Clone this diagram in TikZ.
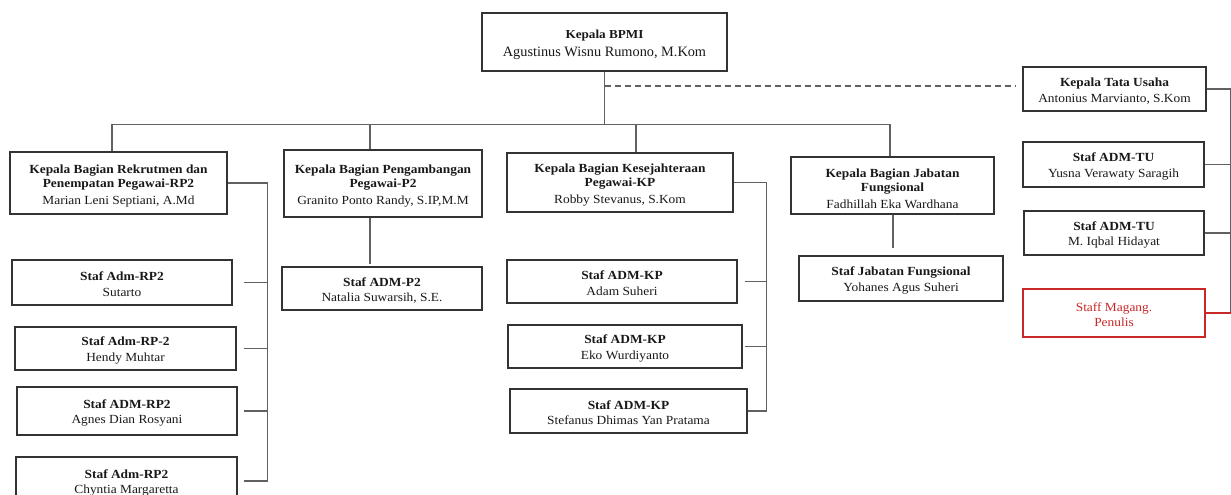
\documentclass[tikz,border=0pt]{standalone}
\usepackage{fontspec}
\setmainfont{Liberation Serif}[FakeStretch=1.08]
\newfontfamily\plainserif{Liberation Serif}
\definecolor{magred}{RGB}{200,40,40}
\definecolor{txt}{RGB}{25,25,25}
\newcommand\dn[1]{\rule{0pt}{#1}}
\begin{document}
\begin{tikzpicture}[x=1pt,y=-1pt,
  bx/.style={draw=black!80, line width=1.2pt, fill=white, align=center, inner sep=0pt,
    text=txt, font=\fontsize{12.4}{14}\selectfont},
  ln/.style={draw=black!62, line width=1.5pt},
]
\useasboundingbox (0,0) rectangle (1231,495);
\fill[white] (0,0) rectangle (1231,495);

% top
\node[bx, minimum width=245pt, minimum height=58pt] (top) at (604.5,42)
  {\fontsize{12.2}{13}\selectfont\dn{14.5pt}\textbf{Kepala BPMI}\\[4pt]\plainserif\fontsize{14.3}{15}\selectfont Agustinus Wisnu Rumono, M.Kom};

% heads
\node[bx, minimum width=217pt, minimum height=62pt] (rp2h) at (118.5,183)
  {\dn{14.5pt}\textbf{Kepala Bagian Rekrutmen dan}\\\textbf{Penempatan Pegawai-RP2}\\[3pt]Marian Leni Septiani, A.Md};
\node[bx, minimum width=198pt, minimum height=67pt] (p2h) at (383,183.5)
  {\dn{14.5pt}\textbf{Kepala Bagian Pengambangan}\\\textbf{Pegawai-P2}\\[3pt]Granito Ponto Randy, S.IP,M.M};
\node[bx, minimum width=226pt, minimum height=59pt] (kph) at (620,182.5)
  {\dn{14.5pt}\textbf{Kepala Bagian Kesejahteraan}\\\textbf{Pegawai-KP}\\[3pt]Robby Stevanus, S.Kom};
\node[bx, minimum width=203pt, minimum height=57pt] (jfh) at (892.5,185.5)
  {\dn{14.5pt}\textbf{Kepala Bagian Jabatan}\\\textbf{Fungsional}\\[3pt]Fadhillah Eka Wardhana};

% staff
\node[bx, minimum width=200pt, minimum height=43pt] (p2s) at (382,288.5)
  {\dn{12.5pt}\textbf{Staf ADM-P2}\\[1.5pt]Natalia Suwarsih, S.E.};
\node[bx, minimum width=204pt, minimum height=45pt] (jfs) at (901,278.5)
  {\dn{12.5pt}\textbf{Staf Jabatan Fungsional}\\[1.5pt]Yohanes Agus Suheri};

\node[bx, minimum width=220pt, minimum height=45pt] (s1) at (122,282.5)
  {\dn{12.5pt}\textbf{Staf Adm-RP2}\\[1.5pt]Sutarto};
\node[bx, minimum width=221pt, minimum height=43pt] (s2) at (125.5,348.5)
  {\dn{12.5pt}\textbf{Staf Adm-RP-2}\\[1.5pt]Hendy Muhtar};
\node[bx, minimum width=220pt, minimum height=48pt] (s3) at (127,411)
  {\dn{12.5pt}\textbf{Staf ADM-RP2}\\[1.5pt]Agnes Dian Rosyani};
\node[bx, minimum width=221pt, minimum height=48pt] (s4) at (126.5,481)
  {\dn{12.5pt}\textbf{Staf Adm-RP2}\\[1.5pt]Chyntia Margaretta};

\node[bx, minimum width=230pt, minimum height=43pt] (k1) at (622,281.5)
  {\dn{12.5pt}\textbf{Staf ADM-KP}\\[1.5pt]Adam Suheri};
\node[bx, minimum width=234pt, minimum height=43pt] (k2) at (625,346.5)
  {\dn{12.5pt}\textbf{Staf ADM-KP}\\[1.5pt]Eko Wurdiyanto};
\node[bx, minimum width=237pt, minimum height=44pt] (k3) at (628.5,411)
  {\dn{12.5pt}\textbf{Staf ADM-KP}\\[1.5pt]Stefanus Dhimas Yan Pratama};

% tata usaha
\node[bx, minimum width=183pt, minimum height=44pt] (tuh) at (1114.5,89)
  {\dn{12.5pt}\textbf{Kepala Tata Usaha}\\[1.5pt]Antonius Marvianto, S.Kom};
\node[bx, minimum width=181pt, minimum height=45pt] (tu1) at (1113.5,164.5)
  {\dn{12.5pt}\textbf{Staf ADM-TU}\\[1.5pt]Yusna Verawaty Saragih};
\node[bx, minimum width=180pt, minimum height=44pt] (tu2) at (1114,233)
  {\dn{12.5pt}\textbf{Staf ADM-TU}\\[1.5pt]M. Iqbal Hidayat};
\node[bx, draw=magred, text=magred, minimum width=182pt, minimum height=48pt] (mag) at (1114,313)
  {\dn{12.5pt}Staff Magang.\\[1.5pt]Penulis};

% main tree
\coordinate (bar) at (604.5,125);
\draw[ln] (top.south) -- (bar);
\draw[ln] ([xshift=-6.5pt]rp2h.north) -- ++(0,-27) -| ([xshift=-2.5pt]jfh.north);
\path ([xshift=-13pt]p2h.north) coordinate (p2n) ([xshift=16pt]kph.north) coordinate (kpn);
\draw[ln] (p2n) -- (p2n |- bar);
\draw[ln] (kpn) -- (kpn |- bar);

% dashed to tata usaha
\draw[ln, line width=1.4pt, dash pattern=on 6pt off 4pt] ([yshift=3pt]top.south |- tuh.west) -- ([xshift=-6pt,yshift=3pt]tuh.west);

% P2 and Jabatan
\draw[ln] ([xshift=-13pt]p2h.south) -- ([xshift=-12pt,yshift=2pt]p2s.north);
\draw[ln] ([xshift=0.5pt]jfh.south) -- ++(0,33);

% RP2 column
\draw[ln] (rp2h.east) -- ++(40,0) coordinate (rpv) -- (rpv |- s4.east);
\draw[ln] ([xshift=11pt]s1.east) -- (s1.east -| rpv);
\draw[ln] ([xshift=7pt]s2.east) -- (s2.east -| rpv);
\draw[ln] ([xshift=6pt]s3.east) -- (s3.east -| rpv);
\draw[ln] ([xshift=6pt]s4.east) -- (s4.east -| rpv);

% KP column
\draw[ln] (kph.east) -- ++(33,0) coordinate (kpv) -- (kpv |- k3.east);
\draw[ln] ([xshift=7pt]k1.east) -- (k1.east -| kpv);
\draw[ln] ([xshift=2pt]k2.east) -- (k2.east -| kpv);
\draw[ln] (k3.east) -- (k3.east -| kpv);

% TU column
\draw[ln] (tuh.east) -- ++(24,0) coordinate (tuv) -- (tuv |- mag.east);
\draw[ln] (tu1.east) -- (tu1.east -| tuv);
\draw[ln] (tu2.east) -- (tu2.east -| tuv);
\draw[ln, draw=magred] (mag.east) -- (mag.east -| tuv);
\end{tikzpicture}
\end{document}
